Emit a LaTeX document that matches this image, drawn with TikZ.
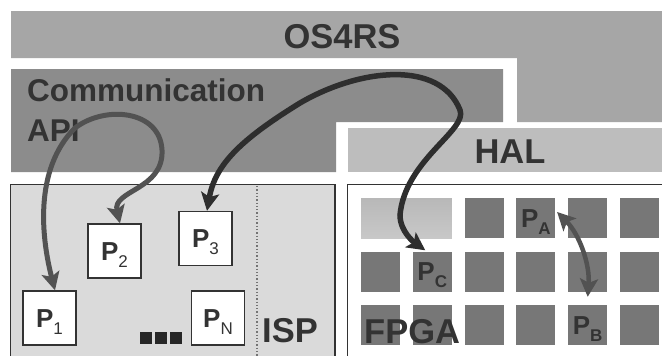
\documentclass[tikz,border=0pt]{standalone}
\usepackage{fontspec}
\setmainfont{Liberation Sans}
\usetikzlibrary{arrows.meta,calc}
\definecolor{osgray}{HTML}{A6A6A6}
\definecolor{apigray}{HTML}{8C8C8C}
\definecolor{halgray}{HTML}{BDBDBD}
\definecolor{ispgray}{HTML}{DADADA}
\definecolor{cellgray}{HTML}{777777}
\definecolor{gtop}{HTML}{B8B8B8}
\definecolor{gbot}{HTML}{C8C8C8}
\definecolor{txt}{HTML}{333333}
\definecolor{arrA}{HTML}{525252}
\definecolor{arrB}{HTML}{2E2E2E}
\newcommand{\plab}[1]{{\fontsize{26}{26}\selectfont\bfseries P}\raisebox{-7pt}{\fontsize{17}{17}\selectfont #1}}
\begin{document}
\begin{tikzpicture}[x=1pt,y=-1pt,
  big/.style={font=\fontsize{34.5}{34.5}\selectfont\bfseries, text=txt, inner sep=0},
  api/.style={font=\fontsize{31.5}{31.5}\selectfont\bfseries, text=txt, inner sep=0, anchor=base west},
  pbox/.style={draw=txt, line width=1.3pt, fill=white, minimum width=53, minimum height=54,
    inner sep=0, text=txt, text height=21pt, text depth=3pt},
  plabel/.style={inner sep=0, text=txt, text height=21pt, text depth=3pt},
  cell/.style={fill=cellgray, minimum width=39, minimum height=40, inner sep=0},
  gcell/.style={top color=gtop, bottom color=gbot, minimum width=90.8, minimum height=40, inner sep=0},
  dot/.style={fill=black!85, minimum size=12, inner sep=0},
  link/.style={line width=5pt, >={Stealth[length=18pt,width=18pt,inset=4pt]}, <->}
]
\useasboundingbox (0,0) rectangle (662,356);
\clip (0,0) rectangle (662,356);
\fill[white] (0,0) rectangle (662,356);
% layers
\fill[osgray] (11,11) -- (662,11) -- (662,122) -- (517,122) -- (517,58) -- (11,58) -- cycle;
\fill[apigray] (11,69) -- (503,69) -- (503,122) -- (336,122) -- (336,172) -- (11,172) -- cycle;
\fill[halgray] (348,128) rectangle (662,172);
\draw[txt, line width=1.6pt, fill=ispgray] (10.5,184.5) rectangle (335,370);
\draw[txt, line width=1.6pt, fill=white] (347.5,184.5) rectangle (680,370);
\draw[black!55, line width=1.3pt, dotted] (257,186) -- (257,356);
% texts of layers
\node[big, anchor=base] (os) at (342,48) {OS4RS};
\node[api] (com) at (27,101) {Communication};
\node[api] (apit) at (27,141) {API};
\node[big, anchor=base] (hal) at (510,163) {HAL};
\node[big, anchor=base west] (isp) at (262,342) {ISP};
% FPGA cells
\node[gcell] (g) at (406.4,218) {};
\foreach \c in {3,...,6}{
  \pgfmathsetmacro\cx{361+51.8*(\c-1)+19.5}
  \node[cell] (c1\c) at (\cx,218) {};
}
\foreach \r in {2,3}{
  \foreach \c in {1,...,6}{
    \pgfmathsetmacro\cx{361+51.8*(\c-1)+19.5}
    \pgfmathsetmacro\cy{198+53.5*(\r-1)+20}
    \node[cell] (c\r\c) at (\cx,\cy) {};
  }
}
\node[plabel] (la) at (c14) {\plab{\bfseries A}};
\node[plabel] (lc) at (c22) {\plab{\bfseries C}};
\node[plabel] (lb) at (c35) {\plab{\bfseries B}};
\node[big, anchor=base west] (fpga) at (364,343) {FPGA};
% ISP processes
\node[pbox] (p1) at (49.5,318) {\plab{1}};
\node[pbox] (p2) at (114.5,251) {\plab{2}};
\node[pbox] (p3) at (205.5,238.5) {\plab{3}};
\node[pbox] (pn) at (218,318) {\plab{N}};
\node[dot] (d1) at (146,338) {};
\node[dot] (d2) at (161,338) {};
\node[dot] (d3) at (176,338) {};
% connectors
\draw[link, arrA] ($(p1.north)+(5.5,0)$) .. controls (42,240) and (33,170) .. (75,128)
   .. controls (105,105) and (160,110) .. (162,150)
   .. controls (164,190) and (112,190) .. ($(p2.north)+(5.5,0)$);
\draw[link, arrB, line width=5.5pt] ($(p3.north)+(1.5,0)$) .. controls (215,165) and (240,140) .. (300,103)
   .. controls (360,68) and (440,60) .. (460,110)
   .. controls (468,130) and (405,160) .. (400,215)
   .. controls (400,232) and (415,243) .. ($(c22.north)+(-7,-1)$);
\draw[link, arrA, line width=4.5pt] ($(c14.east)+(1.5,-6)$) .. controls (580,235) and (590,265) .. ($(c35.north)+(0,-8)$);
\end{tikzpicture}
\end{document}
